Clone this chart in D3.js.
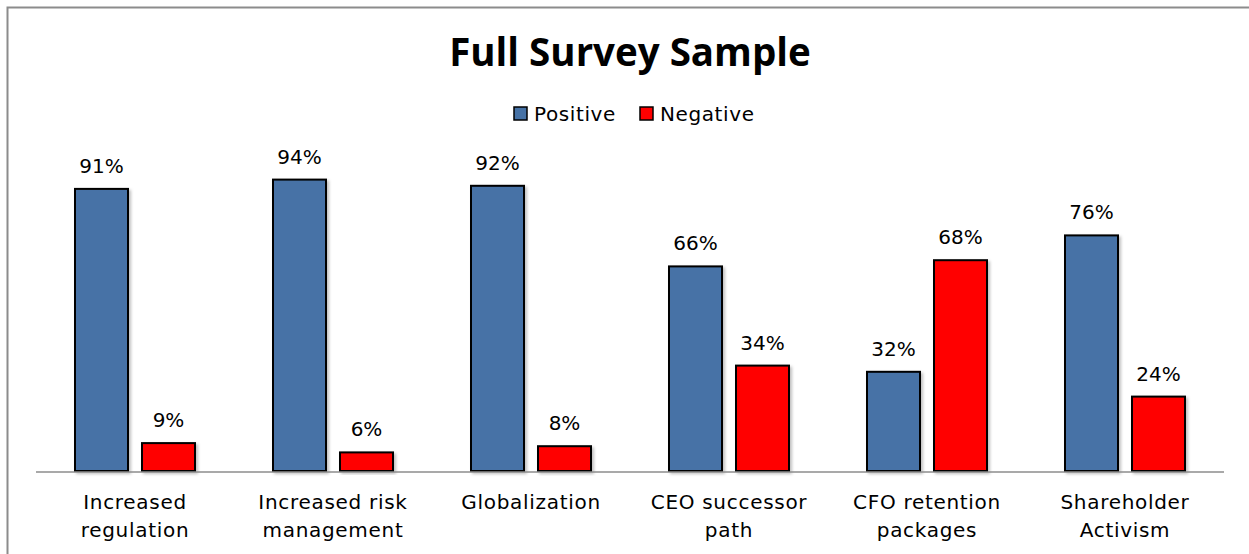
<!DOCTYPE html>
<html>
<head>
<meta charset="utf-8">
<script src="https://cdn.jsdelivr.net/npm/d3@7"></script>
<style>
  body { margin: 0; background: #fff; }
  svg { display: block; }
</style>
</head>
<body>
<script>
// Chart data
const categories = [
    ['Increased', 'regulation'],
    ['Increased risk', 'management'],
    ['Globalization'],
    ['CEO successor', 'path'],
    ['CFO retention', 'packages'],
    ['Shareholder', 'Activism']
];
const positive = [91, 94, 92, 66, 32, 76];
const negative = [9, 6, 8, 34, 68, 24];
const seriesNames = ['Positive', 'Negative'];
const seriesColors = ['#4672a6', '#ff0000'];

const width = 1249, height = 554;

const svg = d3.select('body')
    .append('svg')
    .attr('width', width)
    .attr('height', height);

// soft shadow under the bars
const defs = svg.append('defs');
defs.append('filter')
    .attr('id', 'shadow')
    .attr('x', '-20%').attr('y', '-20%')
    .attr('width', '140%').attr('height', '140%')
    .append('feDropShadow')
    .attr('dx', 2).attr('dy', 2)
    .attr('stdDeviation', 1.5)
    .attr('flood-color', '#000')
    .attr('flood-opacity', 0.25);

// chart frame (left + top only visible)
svg.append('rect')
    .attr('x', 7.5).attr('y', 7.5)
    .attr('width', 1260).attr('height', 560)
    .attr('fill', 'none')
    .attr('stroke', '#8c8c8c')
    .attr('stroke-width', 2);

// Scales
const x0 = d3.scaleBand()
    .domain(d3.range(categories.length))
    .range([36, 1224])
    .paddingInner(0)
    .paddingOuter(0);

const x1 = d3.scaleBand()
    .domain([0, 1])
    .range([39, x0.bandwidth() - 39])
    .paddingInner(0.209);

const y = d3.scaleLinear()
    .domain([0, 100])
    .range([471, 161]);

const labelFont = '"DejaVu Sans", sans-serif';

// Title
svg.append('text')
    .attr('x', 630)
    .attr('y', 66)
    .attr('text-anchor', 'middle')
    .style('font-family', '"Open Sans", sans-serif')
    .style('font-weight', 'bold')
    .style('font-size', '38.5px')
    .attr('fill', '#000')
    .text('Full Survey Sample');

// Legend
const legend = svg.append('g').attr('transform', 'translate(514,107)');
const legendX = [0, 126];
seriesNames.forEach((name, i) => {
    const lg = legend.append('g').attr('transform', `translate(${legendX[i]},0)`);
    lg.append('rect')
        .attr('width', 13).attr('height', 13)
        .attr('fill', seriesColors[i])
        .attr('stroke', '#000')
        .attr('stroke-width', 1.5);
    lg.append('text')
        .attr('x', 20).attr('y', 14)
        .style('font-family', labelFont)
        .style('font-size', '20px')
        .style('letter-spacing', '0.6px')
        .attr('fill', '#000')
        .text(name);
});

// Data rows
const rows = categories.map((c, i) => ({ i, values: [positive[i], negative[i]] }));

const groups = svg.selectAll('.group')
    .data(rows)
    .enter()
    .append('g')
    .attr('class', 'group')
    .attr('transform', d => `translate(${x0(d.i)},0)`);

// Axis baseline
svg.append('line')
    .attr('x1', x0.range()[0]).attr('x2', x0.range()[1])
    .attr('y1', y(0) + 1).attr('y2', y(0) + 1)
    .attr('stroke', '#8c8c8c')
    .attr('stroke-width', 1.5);

// Bars
groups.selectAll('rect')
    .data(d => d.values.map((v, k) => ({ v, k })))
    .enter()
    .append('rect')
    .attr('x', d => x1(d.k))
    .attr('y', d => y(d.v))
    .attr('width', x1.bandwidth())
    .attr('height', d => y(0) - y(d.v))
    .attr('fill', d => seriesColors[d.k])
    .attr('stroke', '#000')
    .attr('stroke-width', 2)
    .attr('filter', 'url(#shadow)');

// Value labels
groups.selectAll('.value')
    .data(d => d.values.map((v, k) => ({ v, k })))
    .enter()
    .append('text')
    .attr('class', 'value')
    .attr('x', d => x1(d.k) + x1.bandwidth() / 2)
    .attr('y', d => y(d.v) - 16)
    .attr('text-anchor', 'middle')
    .style('font-family', labelFont)
    .style('font-size', '20px')
    .attr('fill', '#000')
    .text(d => d.v + '%');

// Category labels
svg.selectAll('.cat')
    .data(categories)
    .enter()
    .append('text')
    .attr('class', 'cat')
    .attr('x', (d, i) => x0(i) + x0.bandwidth() / 2)
    .attr('y', 509)
    .attr('text-anchor', 'middle')
    .style('font-family', labelFont)
    .style('font-size', '20px')
    .style('letter-spacing', '0.7px')
    .attr('fill', '#000')
    .selectAll('tspan')
    .data(d => d)
    .enter()
    .append('tspan')
    .attr('x', function () { return d3.select(this.parentNode).attr('x'); })
    .attr('dy', (d, i) => i === 0 ? 0 : 28)
    .text(d => d);
</script>
</body>
</html>
